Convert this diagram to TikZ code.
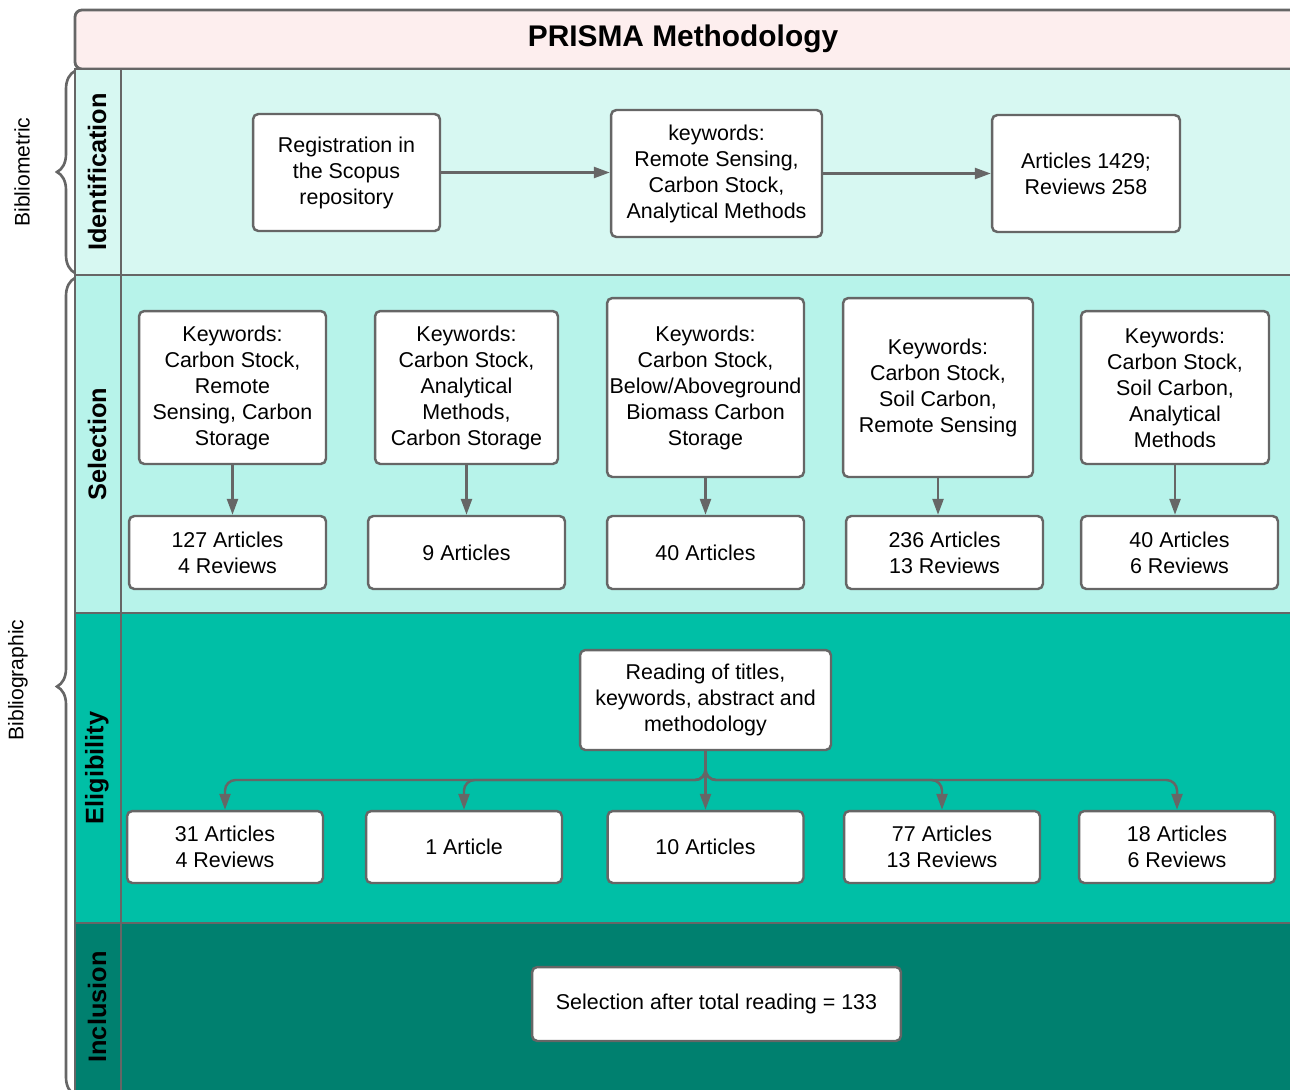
\documentclass[tikz,border=0pt]{standalone}
\usepackage{fontspec}
\setmainfont{Liberation Sans}
\usetikzlibrary{arrows.meta,positioning,calc,decorations.pathreplacing}
\definecolor{linegray}{HTML}{666666}
\definecolor{titlepink}{HTML}{FDEEEE}
\definecolor{idmint}{HTML}{D7F8F2}
\definecolor{selmint}{HTML}{B7F3EA}
\definecolor{eligteal}{HTML}{00BFA6}
\definecolor{incteal}{HTML}{00806F}
\tikzset{
  lane/.style={draw=linegray, line width=1.6pt},
  lanelabel/.style={rotate=90, font=\bfseries\fontsize{14.4}{17}\selectfont},
  sidelabel/.style={rotate=90, font=\fontsize{12}{14}\selectfont},
  box/.style={draw=linegray, fill=white, line width=1.4pt, rounded corners=3pt, align=center, inner sep=0pt, font=\fontsize{12.2}{14.8}\selectfont},
  arr/.style={draw=linegray, line width=1.4pt, -{Triangle[length=0.32cm,width=0.22cm]}},
  brc/.style={draw=linegray, line width=1.5pt, decorate, decoration={brace, amplitude=0.36cm}},
}
\begin{document}
\begin{tikzpicture}[x=0.02cm, y=-0.02cm]
	\clip (0,0) rectangle (1290,1089);
	% lanes
	\draw[lane, fill=titlepink, rounded corners=4pt] (75,10) rectangle (1300,69);
	\node[font=\bfseries\fontsize{17}{20}\selectfont] (title) at (683,39) {PRISMA Methodology};
	\draw[lane, fill=idmint] (75,69) rectangle (1300,275);
	\draw[lane, fill=selmint] (75,275) rectangle (1300,613);
	\draw[lane, fill=eligteal] (75,613) rectangle (1300,923);
	\draw[lane, fill=incteal] (75,923) rectangle (1300,1100);
	\draw[lane] (121,69) -- (121,1100);
	\node[lanelabel] (lid) at (97,172) {Identification};
	\node[lanelabel] (lsel) at (97,444) {Selection};
	\node[lanelabel] (lelig) at (97,768) {Eligibility};
	\node[lanelabel] (linc) at (97,1007) {Inclusion};
	% braces
	\draw[brc] (75,273) -- (75,71);
	\draw[brc] (75,1095) -- (75,278);
	\node[sidelabel] (bmet) at (22,172) {Bibliometric};
	\node[sidelabel] (bgra) at (18,680) {Bibliographic};

	% identification
	\node[box, minimum width=3.74cm, minimum height=2.34cm] (reg) at (346.5,172.5) {Registration in\\the Scopus\\repository};
	\node[box, minimum width=4.22cm, minimum height=2.54cm] (kw) at (716.5,173.5) {keywords:\\Remote Sensing,\\Carbon Stock,\\Analytical Methods};
	\node[box, minimum width=3.76cm, minimum height=2.34cm] (art) at (1086,173.5) {Articles 1429;\\Reviews 258};
	\draw[arr] (reg.east) -- (reg.east -| kw.west);
	\draw[arr] (kw.east) -- (art.west);

	% selection
	\node[box, minimum width=3.74cm, minimum height=3.06cm] (s1) at (232.5,387.5) {Keywords:\\Carbon Stock,\\Remote\\Sensing, Carbon\\Storage};
	\node[box, minimum width=3.66cm, minimum height=3.06cm] (s2) at (466.5,387.5) {Keywords:\\Carbon Stock,\\Analytical\\Methods,\\Carbon Storage};
	\node[box, minimum width=3.94cm, minimum height=3.58cm] (s3) at (705.5,387.5) {Keywords:\\Carbon Stock,\\Below/Aboveground\\Biomass Carbon\\Storage};
	\node[box, minimum width=3.8cm, minimum height=3.58cm] (s4) at (938,387.5) {Keywords:\\Carbon Stock,\\Soil Carbon,\\Remote Sensing};
	\node[box, minimum width=3.76cm, minimum height=3.06cm] (s5) at (1175,387.5) {Keywords:\\Carbon Stock,\\Soil Carbon,\\Analytical\\Methods};
	\node[box, minimum width=3.94cm, minimum height=1.46cm] (r1) at (227.5,552.5) {127 Articles\\4 Reviews};
	\node[box, minimum width=3.94cm, minimum height=1.46cm] (r2) at (466.5,552.5) {9 Articles};
	\node[box, minimum width=3.94cm, minimum height=1.46cm] (r3) at (705.5,552.5) {40 Articles};
	\node[box, minimum width=3.94cm, minimum height=1.46cm] (r4) at (944.5,552.5) {236 Articles\\13 Reviews};
	\node[box, minimum width=3.94cm, minimum height=1.46cm] (r5) at (1179.5,552.5) {40 Articles\\6 Reviews};
	\foreach \i in {1,...,5}
		\draw[arr] (s\i.south) -- (s\i.south |- r\i.north);

	% eligibility
	\node[box, minimum width=5.02cm, minimum height=2cm] (read) at (705.5,700) {Reading of titles,\\keywords, abstract and\\methodology};
	\node[box, minimum width=3.92cm, minimum height=1.44cm] (e1) at (225,847) {31 Articles\\4 Reviews};
	\node[box, minimum width=3.92cm, minimum height=1.44cm] (e2) at (464,847) {1 Article};
	\node[box, minimum width=3.92cm, minimum height=1.44cm] (e3) at (705.5,847) {10 Articles};
	\node[box, minimum width=3.92cm, minimum height=1.44cm] (e4) at (942,847) {77 Articles\\13 Reviews};
	\node[box, minimum width=3.92cm, minimum height=1.44cm] (e5) at (1177,847) {18 Articles\\6 Reviews};
	\coordinate (bus) at (705.5,780);
	\foreach \e in {e1,e2,e4,e5}
		\draw[arr, rounded corners=6pt] (read.south) -- (bus) -| (\e.north);
	\draw[arr] (read.south) -- (e3.north);

	% inclusion
	\node[box, minimum width=7.38cm, minimum height=1.48cm] (final) at (716.5,1004) {Selection after total reading = 133};
\end{tikzpicture}
\end{document}
